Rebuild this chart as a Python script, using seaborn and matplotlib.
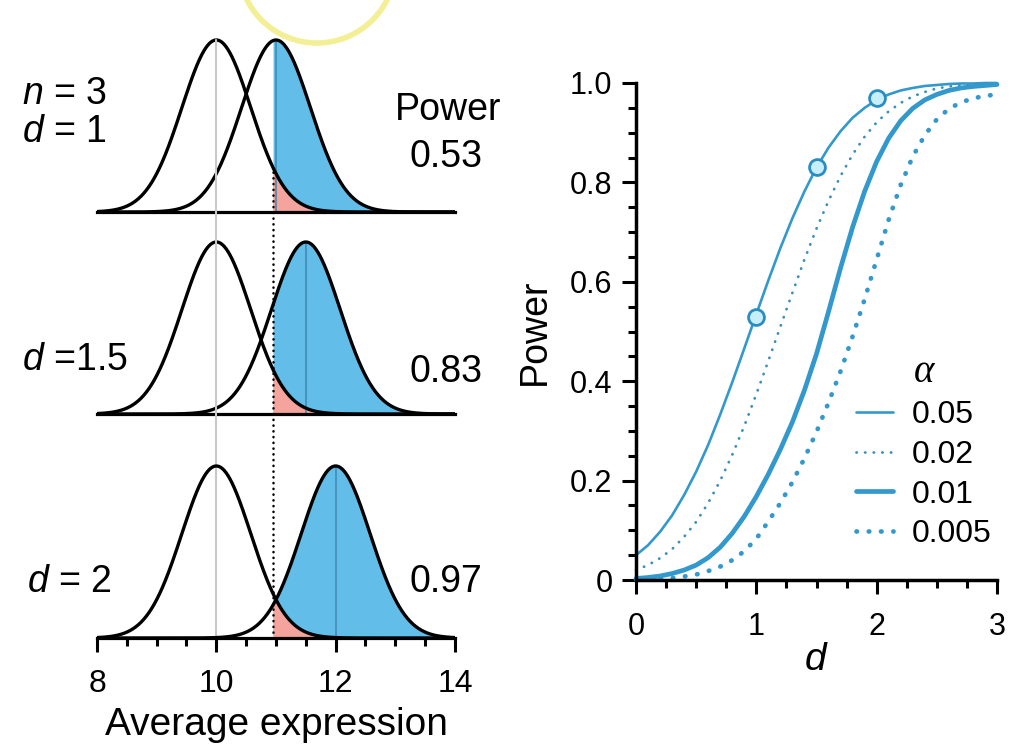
import numpy as np
import pandas as pd
import matplotlib.pyplot as plt
import seaborn as sns
from matplotlib.lines import Line2D
from matplotlib.patches import Ellipse
from statistics import NormalDist

# left panels: null and alternative sampling distributions
h0_mean = 10
pop_sd = 1
n = 3
test_alpha = 0.05
effect_sizes = [1, 1.5, 2]
panel_labels = ["$n$ = 3\n$d$ = 1", "$d$ =1.5", "$d$ = 2"]
power_labels = ["0.53", "0.83", "0.97"]

# right panel: power curves, every 0.1 in d
d_read = np.round(np.arange(0, 3.01, 0.1), 1)
power_005 = [0.05, 0.07, 0.097, 0.13, 0.171, 0.218, 0.272, 0.333, 0.398, 0.466, 0.535,
             0.603, 0.668, 0.728, 0.782, 0.83, 0.87, 0.903, 0.93, 0.95, 0.966,
             0.977, 0.985, 0.99, 0.994, 0.996, 0.998, 0.999, 0.999, 1.0, 1.0]
power_002 = [0.02, 0.03, 0.044, 0.062, 0.087, 0.117, 0.155, 0.2, 0.252, 0.31, 0.374,
             0.441, 0.51, 0.578, 0.645, 0.707, 0.763, 0.813, 0.856, 0.892, 0.921,
             0.943, 0.96, 0.973, 0.982, 0.989, 0.993, 0.996, 0.997, 0.998, 0.999]
power_001 = [0.003, 0.005, 0.008, 0.013, 0.02, 0.03, 0.045, 0.066, 0.094, 0.128, 0.168,
             0.213, 0.263, 0.318, 0.382, 0.455, 0.54, 0.628, 0.71, 0.782, 0.842,
             0.889, 0.924, 0.949, 0.966, 0.977, 0.985, 0.99, 0.993, 0.995, 0.997]
power_0005 = [0.001, 0.001, 0.002, 0.004, 0.007, 0.011, 0.018, 0.027, 0.04, 0.058, 0.083,
              0.118, 0.155, 0.197, 0.245, 0.298, 0.357, 0.42, 0.49, 0.565, 0.645,
              0.725, 0.795, 0.852, 0.895, 0.927, 0.948, 0.961, 0.969, 0.974, 0.977]
alpha_labels = ["0.05", "0.02", "0.01", "0.005"]
marker_d = [1, 1.5, 2]
marker_power = [0.53, 0.83, 0.97]

curves = pd.concat([
    pd.DataFrame({"d": d_read, "power": power_005, "alpha": "0.05"}),
    pd.DataFrame({"d": d_read, "power": power_002, "alpha": "0.02"}),
    pd.DataFrame({"d": d_read, "power": power_001, "alpha": "0.01"}),
    pd.DataFrame({"d": d_read, "power": power_0005, "alpha": "0.005"}),
])

# style
line_blue = "#3399cc"
fill_blue = "#63bde9"
fill_pink = "#f4a39d"
alpha_styles = {
    "0.05": dict(lw=1.9, ls="-", color=line_blue),
    "0.02": dict(lw=2.0, ls=(0, (0.1, 3.0)), color="#3b8fba"),
    "0.01": dict(lw=3.4, ls="-", color=line_blue),
    "0.005": dict(lw=3.4, ls=(0, (0.1, 2.5)), color=line_blue),
}

sns.set_style("ticks")
plt.rcParams["font.family"] = ["Liberation Sans", "DejaVu Sans"]
plt.rcParams["mathtext.fontset"] = "custom"
plt.rcParams["mathtext.it"] = "Liberation Sans:italic"
plt.rcParams["mathtext.rm"] = "Liberation Sans"
for key in ["text.color", "axes.labelcolor", "xtick.color", "ytick.color", "axes.edgecolor"]:
    plt.rcParams[key] = "black"

W, H = 1034, 744
fig = plt.figure(figsize=(W / 100, H / 100), dpi=100)


def rect(left, right, bottom, height):
    # pixel box (from top-left) -> figure fraction
    return [left / W, 1 - bottom / H, (right - left) / W, height / H]


se = pop_sd / np.sqrt(n)
h0 = NormalDist(h0_mean, se)
cut = h0.inv_cdf(1 - test_alpha)
peak = h0.pdf(h0_mean)
x = np.linspace(8, 14, 800)

baselines = [212, 414, 638]
panel_h = 185
ytop = peak * panel_h / 172

left_axes = []
for i, (d, base) in enumerate(zip(effect_sizes, baselines)):
    ax = fig.add_axes(rect(97, 455, base, panel_h))
    ax.patch.set_alpha(0)
    h1 = NormalDist(h0_mean + d * pop_sd, se)
    df = pd.DataFrame({"x": np.concatenate([x, x]),
                       "y": [h0.pdf(v) for v in x] + [h1.pdf(v) for v in x],
                       "dist": ["H0"] * len(x) + ["H1"] * len(x)})
    xr = x[x >= cut]
    ax.fill_between(xr, [h1.pdf(v) for v in xr], color=fill_blue, lw=0, zorder=1)
    ax.fill_between(xr, [h0.pdf(v) for v in xr], color=fill_pink, lw=0, zorder=2)
    ax.plot([h1.mean, h1.mean], [0, h1.pdf(h1.mean)], color="#3f87ad", lw=1.1, zorder=2)
    sns.lineplot(data=df, x="x", y="y", units="dist", estimator=None,
                 color="black", lw=2.4, ax=ax, zorder=3)
    ax.set_xlim(8, 14)
    ax.set_ylim(0, ytop)
    ax.set_xlabel("")
    ax.set_ylabel("")
    sns.despine(ax=ax, left=True)
    ax.set_yticks([])
    ax.spines["bottom"].set_linewidth(2.3)
    if i < 2:
        ax.set_xticks([])
    else:
        ax.set_xticks([8, 10, 12, 14])
        ax.set_xticks(np.arange(8, 14.01, 0.5), minor=True)
        ax.tick_params(axis="x", which="major", length=10, width=2.2, labelsize=23, pad=12)
        ax.tick_params(axis="x", which="minor", length=5.5, width=2.2)
        ax.set_xlabel("Average expression", fontsize=28, labelpad=6)
    left_axes.append(ax)

# labels on the left panels
fig.text(22 / W, 1 - 113 / H, panel_labels[0], fontsize=27, va="center", ha="left", linespacing=1.1)
fig.text(22 / W, 1 - 360 / H, panel_labels[1], fontsize=27, va="center", ha="left")
fig.text(27 / W, 1 - 582 / H, panel_labels[2], fontsize=27, va="center", ha="left")
fig.text(448 / W, 1 - 110 / H, "Power", fontsize=27, va="center", ha="center")
for lab, yc in zip(power_labels, [157, 372, 582]):
    fig.text(446 / W, 1 - yc / H, lab, fontsize=27, va="center", ha="center")

# vertical guide lines running through all three panels
ax_top, ax_bot = left_axes[0], left_axes[-1]
inv = ax_bot.transData.inverted()
y_peak = inv.transform(ax_top.transData.transform((h0_mean, peak)))[1]
y_cut = inv.transform(ax_top.transData.transform((cut, h0.pdf(cut))))[1]
ax_bot.plot([h0_mean, h0_mean], [0, y_peak], color="#c9c9c9", lw=1.5, clip_on=False, zorder=0.5)
guide = fig.add_axes(ax_bot.get_position().bounds)
guide.set_axis_off()
guide.set_xlim(8, 14)
guide.set_ylim(0, ytop)
guide.plot([cut, cut], [0, y_cut], color="black", lw=1.8,
           ls=(0, (0.1, 2.2)), dash_capstyle="round", clip_on=False)

# power curves
axr = fig.add_axes(rect(636, 997, 580, 497))
handles = []
for lab in alpha_labels:
    st = alpha_styles[lab]
    sns.lineplot(data=curves[curves["alpha"] == lab], x="d", y="power",
                 color=st["color"], lw=st["lw"], linestyle=st["ls"],
                 dash_capstyle="round", ax=axr, clip_on=False)
    handles.append(Line2D([], [], color=st["color"], lw=st["lw"], ls=st["ls"],
                          dash_capstyle="round", label=lab))
sns.scatterplot(x=marker_d, y=marker_power, ax=axr, s=130, color="#c6effb",
                edgecolor="#2a8dc2", linewidth=2, zorder=5, clip_on=False)

axr.set_xlim(0, 3)
axr.set_ylim(0, 1)
axr.set_xticks([0, 1, 2, 3])
axr.set_xticks(np.arange(0, 3.01, 0.25), minor=True)
axr.set_yticks([0, 0.2, 0.4, 0.6, 0.8, 1.0])
axr.set_yticks(np.arange(0, 1.001, 0.05), minor=True)
axr.set_yticklabels(["0", "0.2", "0.4", "0.6", "0.8", "1.0"])
axr.tick_params(which="major", length=10, width=2.2, labelsize=22)
axr.tick_params(which="minor", length=5.5, width=2.2)
axr.tick_params(axis="x", which="major", pad=13)
axr.tick_params(axis="y", which="major", pad=7)
for s in ["left", "bottom"]:
    axr.spines[s].set_linewidth(2.5)
sns.despine(ax=axr)
axr.set_xlabel("$d$", fontsize=28, labelpad=0)
axr.set_ylabel("Power", fontsize=27, labelpad=12)

leg = axr.legend(handles=handles, title="\u03b1", loc="upper left",
                 bbox_to_anchor=(0.61, 0.455), frameon=False, fontsize=23,
                 handlelength=1.15, handletextpad=0.6, labelspacing=0.3,
                 borderpad=0, borderaxespad=0)
leg.get_title().set_fontsize(28)
leg.get_title().set_fontfamily("Liberation Serif")
leg.get_title().set_fontstyle("italic")

# yellow highlight ring at the top edge of the screenshot
fig.add_artist(Ellipse((317 / W, 1 + 35.5 / H), 2 * 78.5 / W, 2 * 78.5 / H,
                       transform=fig.transFigure, fill=False,
                       ec="#f3ef95", lw=4))

fig.savefig("out.png", dpi=100)
